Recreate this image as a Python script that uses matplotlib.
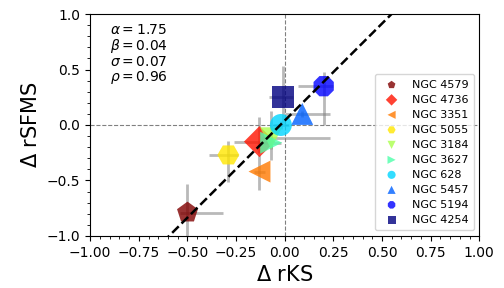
import matplotlib
matplotlib.use("Agg")
import matplotlib.pyplot as plt
import numpy as np
from matplotlib.ticker import AutoMinorLocator

# galaxies, in legend order
names = ["NGC 4579", "NGC 4736", "NGC 3351", "NGC 5055", "NGC 3184",
         "NGC 3627", "NGC 628", "NGC 5457", "NGC 5194", "NGC 4254"]
markers = ["p", "D", "<", "H", "v", ">", "o", "^", "8", "s"]

d_rks = [-0.50, -0.13, -0.13, -0.29, -0.07, -0.07, -0.02, 0.09, 0.20, -0.01]
d_rsfms = [-0.79, -0.15, -0.42, -0.27, -0.12, -0.16, 0.00, 0.10, 0.35, 0.25]

# asymmetric errors (lower, upper)
xerr_lo = [0.04, 0.13, 0.03, 0.10, 0.05, 0.05, 0.04, 0.09, 0.13, 0.07]
xerr_hi = [0.18, 0.05, 0.03, 0.05, 0.30, 0.05, 0.04, 0.14, 0.05, 0.05]
yerr_lo = [0.30, 0.10, 0.17, 0.24, 0.10, 0.16, 0.04, 0.03, 0.35, 0.23]
yerr_hi = [0.26, 0.22, 0.15, 0.13, 0.25, 0.10, 0.04, 0.03, 0.13, 0.28]

# fit parameters
alpha_fit = 1.75
beta_fit = 0.04
sigma_fit = 0.07
rho_fit = 0.96

colors = plt.cm.jet(np.linspace(1, 0, len(names)))

fig = plt.figure(figsize=(5.04, 2.88), dpi=100)
ax = fig.add_axes([0.179, 0.181, 0.772, 0.770])

ax.axhline(0, color="grey", ls="--", lw=0.8, zorder=0)
ax.axvline(0, color="grey", ls="--", lw=0.8, zorder=0)

for i in range(len(names)):
    ax.errorbar(d_rks[i], d_rsfms[i],
                xerr=[[xerr_lo[i]], [xerr_hi[i]]],
                yerr=[[yerr_lo[i]], [yerr_hi[i]]],
                fmt="none", ecolor="grey", alpha=0.55, elinewidth=2, zorder=1)
    ax.scatter(d_rks[i], d_rsfms[i], s=250, marker=markers[i],
               color=colors[i], alpha=0.8, edgecolors="none",
               label=names[i], zorder=2)

xx = np.linspace(-1, 1, 50)
ax.plot(xx, alpha_fit * xx + beta_fit, "k--", lw=1.8, zorder=3)

txt = (r"$\alpha = %.2f$" % alpha_fit + "\n" + r"$\beta = %.2f$" % beta_fit + "\n"
       + r"$\sigma = %.2f$" % sigma_fit + "\n" + r"$\rho = %.2f$" % rho_fit)
ax.text(0.05, 0.96, txt, transform=ax.transAxes, va="top", ha="left",
        fontsize=10, linespacing=1.0)

ax.set_xlim(-1, 1)
ax.set_ylim(-1, 1)
ax.xaxis.set_minor_locator(AutoMinorLocator(5))
ax.yaxis.set_minor_locator(AutoMinorLocator(5))
ax.tick_params(labelsize=10)
ax.set_xlabel(r"$\Delta$ rKS", fontsize=15)
ax.set_ylabel(r"$\Delta$ rSFMS", fontsize=15)

ax.legend(loc="lower right", fontsize=8, markerscale=0.37,
          labelspacing=0.45, borderpad=0.5)

fig.savefig("out.png", dpi=100)
